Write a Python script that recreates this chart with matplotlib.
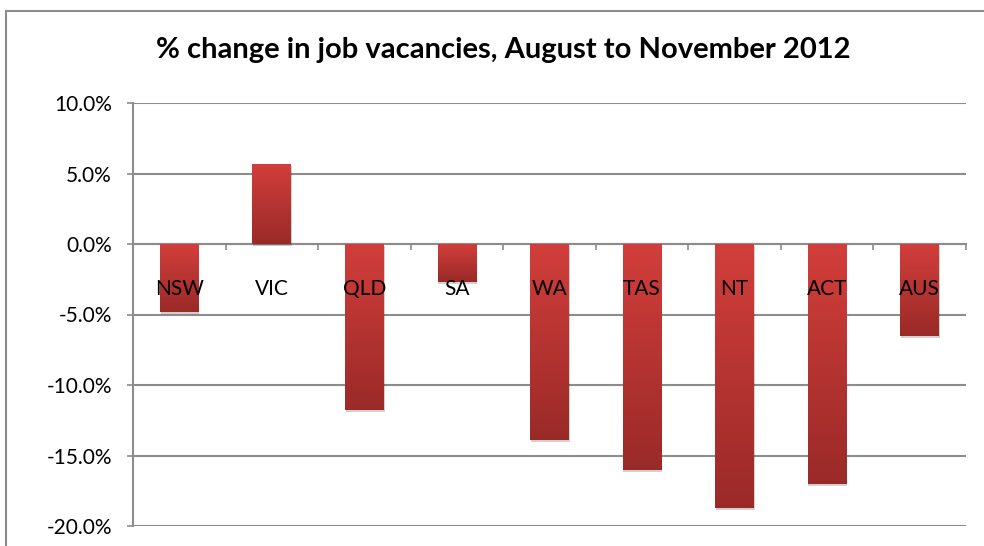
import numpy as np
import matplotlib
matplotlib.use("Agg")
import matplotlib.pyplot as plt
import matplotlib.patheffects as pe
from matplotlib.colors import LinearSegmentedColormap
from matplotlib.patches import Rectangle
from matplotlib.ticker import FuncFormatter, MultipleLocator

# data
states  = ['NSW', 'VIC', 'QLD', 'SA', 'WA', 'TAS', 'NT', 'ACT', 'AUS']
changes = [-4.8, 5.7, -11.8, -2.7, -13.9, -16.0, -18.7, -17.0, -6.5]

plt.rcParams['font.family'] = ['Lato', 'DejaVu Sans']
grid_col = '#8c8c8c'

fig = plt.figure(figsize=(9.84, 5.46), dpi=100)
ax = fig.add_axes([133/984, 1 - 526/546, (966 - 133)/984, (526 - 103)/546])

# outer chart-area border (right/bottom run off the picture)
fig.patches.append(Rectangle((6/984, -0.1), 1.2, 0.1 + (546 - 11)/546,
                             transform=fig.transFigure, fill=False,
                             edgecolor=grid_col, linewidth=1.5))

x = np.arange(len(states))
bars = ax.bar(x, changes, width=0.42, color='#b53432', zorder=3,
              path_effects=[pe.SimplePatchShadow(offset=(0.5, -1.5), shadow_rgbFace='k', alpha=0.18),
                            pe.Normal()])

# vertical gradient inside each bar, light at top, dark at bottom
cmap = LinearSegmentedColormap.from_list('redgrad', ['#9a2a28', '#d23e3b'])
grad = np.linspace(0, 1, 256).reshape(-1, 1)
for b in bars:
    x0, y0 = b.get_x(), b.get_y()
    w, h = b.get_width(), b.get_height()
    lo, hi = min(y0, y0 + h), max(y0, y0 + h)
    im = ax.imshow(grad, cmap=cmap, origin='lower', aspect='auto',
                   extent=[x0, x0 + w, lo, hi], zorder=4, interpolation='bicubic')
    im.set_clip_path(b)

ax.set_xlim(-0.5, len(states) - 0.5)
ax.set_ylim(-20, 10)

# y axis
ax.yaxis.set_major_locator(MultipleLocator(5))
ax.yaxis.set_major_formatter(FuncFormatter(lambda v, p: '%.1f%%' % v))
ax.grid(axis='y', color=grid_col, linewidth=1.5, zorder=1)
ax.tick_params(axis='y', direction='out', length=4.3, width=1.2, color=grid_col,
               labelsize=15, pad=11)

# category axis sits on the zero line
ax.spines['bottom'].set_position(('data', 0))
ax.spines['bottom'].set_color(grid_col)
ax.spines['bottom'].set_linewidth(1.5)
ax.spines['bottom'].set_zorder(2)
ax.spines['left'].set_color(grid_col)
ax.spines['left'].set_linewidth(1.5)
ax.spines['top'].set_visible(False)
ax.spines['right'].set_visible(False)

ax.set_xticks(x)
ax.set_xticklabels([])
ax.set_xticks(np.arange(-0.5, len(states)), minor=True)
ax.tick_params(axis='x', which='major', length=0)
ax.tick_params(axis='x', which='minor', direction='out', length=4.3, width=1.2, color=grid_col)

# category names drawn on top of the bars, just under the zero line
for i, s in enumerate(states):
    ax.annotate(s, xy=(i, 0), xytext=(0, -45), textcoords='offset pixels',
                ha='center', va='center', fontsize=15, zorder=6)

fig.text(0.511, 0.908, '% change in job vacancies, August to November 2012',
         ha='center', va='center', fontsize=21, fontweight='bold')

fig.savefig('out.png', dpi=100)
